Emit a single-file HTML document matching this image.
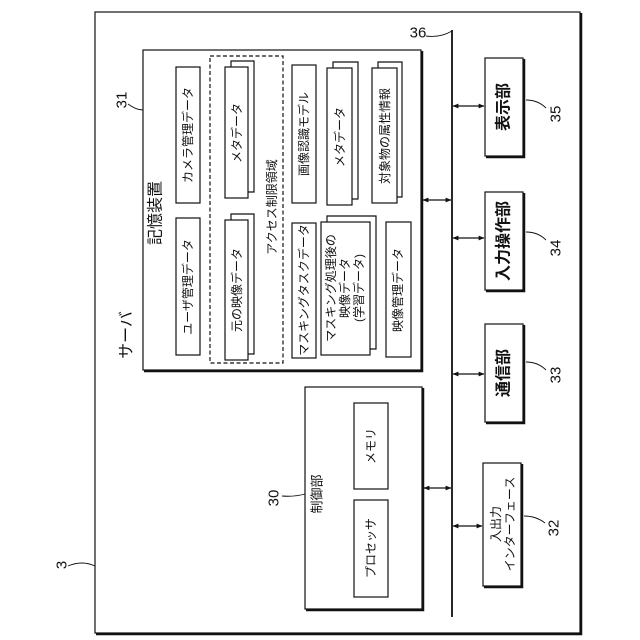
<!DOCTYPE html>
<html><head><meta charset="utf-8"><style>
html,body{margin:0;padding:0;background:#fff}
svg{display:block}
text{font-family:"Liberation Sans","Noto Sans CJK JP",sans-serif;fill:#111}
</style></head><body>
<svg width="640" height="640" viewBox="0 0 640 640" xmlns="http://www.w3.org/2000/svg">
<defs>
<marker id="a" viewBox="0 0 10 10" refX="9" refY="5" markerWidth="5" markerHeight="5" orient="auto-start-reverse"><path d="M0,1 L10,5 L0,9 z" fill="#111"/></marker>
</defs>
<g fill="none" stroke="#111" stroke-width="1.2">
<rect x="95" y="12" width="485" height="621"/>
<path d="M581,13 V634 H96" stroke-width="2.5"/>
<rect x="143" y="50" width="278" height="320"/>
<path d="M422,51 V371 H144" stroke-width="2.5"/>
<rect x="176" y="67" width="24" height="136"/>
<rect x="176" y="218" width="24" height="137"/>
<rect x="210" y="56" width="73" height="307" stroke-dasharray="4,2.5"/>
<path d="M231,67 V61 H254 V192 H248"/><rect x="225" y="67" width="23" height="131" fill="#fff"/>
<path d="M231,220 V214 H254 V354 H248"/><rect x="225" y="220" width="23" height="140" fill="#fff"/>
<rect x="292" y="65" width="24" height="138"/>
<path d="M333,68 V62 H358 V199 H352"/><rect x="327" y="68" width="25" height="137" fill="#fff"/>
<path d="M378,68 V62 H402 V197 H397"/><rect x="372" y="68" width="25" height="135" fill="#fff"/>
<rect x="292" y="223" width="24" height="135"/>
<path d="M327,222 V216 H376 V349 H370"/><rect x="321" y="222" width="49" height="133" fill="#fff"/>
<rect x="386" y="222" width="25" height="135"/>
<rect x="305" y="387" width="117" height="222"/>
<path d="M423,388 V610 H306" stroke-width="2.5"/>
<rect x="354" y="403" width="34" height="86"/>
<rect x="354" y="500" width="34" height="97"/>
<line x1="452" y1="30" x2="452" y2="617" stroke-width="1.8"/>
<rect x="485" y="58" width="38" height="98"/><path d="M524,59 V157 H486" stroke-width="2.5"/>
<rect x="485" y="192" width="38" height="98"/><path d="M524,193 V291 H486" stroke-width="2.5"/>
<rect x="485" y="324" width="38" height="98"/><path d="M524,325 V423 H486" stroke-width="2.5"/>
<rect x="483" y="463" width="38" height="123"/><path d="M522,464 V587 H484" stroke-width="2.5"/>
<line x1="423" y1="200" x2="451" y2="200" marker-start="url(#a)" marker-end="url(#a)"/>
<line x1="424" y1="488" x2="451" y2="488" marker-start="url(#a)" marker-end="url(#a)"/>
<line x1="453" y1="106" x2="484" y2="106" marker-start="url(#a)" marker-end="url(#a)"/>
<line x1="453" y1="238" x2="484" y2="238" marker-start="url(#a)" marker-end="url(#a)"/>
<line x1="453" y1="374" x2="484" y2="374" marker-start="url(#a)" marker-end="url(#a)"/>
<line x1="453" y1="526" x2="482" y2="526" marker-start="url(#a)" marker-end="url(#a)"/>
<path d="M526,100 Q538,100 546,108" stroke-width="0.9"/>
<path d="M526,232 Q538,232 546,240" stroke-width="0.9"/>
<path d="M526,362 Q538,362 546,370" stroke-width="0.9"/>
<path d="M524,516 Q536,516 545,523" stroke-width="0.9"/>
<path d="M426,36 Q440,38 452,31" stroke-width="0.9"/>
<path d="M128,104 Q136,110 143,110" stroke-width="0.9"/>
<path d="M282,496 Q294,497 305,494" stroke-width="0.9"/>
<path d="M68,566 Q82,560 95,566" stroke-width="0.9"/>
</g>
<g font-size="12" text-anchor="middle" dominant-baseline="central">
<text transform="translate(188,135) rotate(-90)">カメラ管理データ</text>
<text transform="translate(188,287) rotate(-90)">ユーザ管理データ</text>
<text transform="translate(237,133) rotate(-90)">メタデータ</text>
<text transform="translate(237,290) rotate(-90)">元の映像データ</text>
<text transform="translate(272,207) rotate(-90)">アクセス制限領域</text>
<text transform="translate(304,134) rotate(-90)">画像認識モデル</text>
<text transform="translate(340,137) rotate(-90)">メタデータ</text>
<text transform="translate(385,136) rotate(-90)">対象物の属性情報</text>
<text transform="translate(304,290) rotate(-90)">マスキングタスクデータ</text>
<text transform="translate(331,288) rotate(-90)">マスキング処理後の</text>
<text transform="translate(345,288) rotate(-90)">映像データ</text>
<text transform="translate(359,288) rotate(-90)">(学習データ)</text>
<text transform="translate(398,290) rotate(-90)">映像管理データ</text>
<text transform="translate(371,446) rotate(-90)">メモリ</text>
<text transform="translate(371,548) rotate(-90)">プロセッサ</text>
<text transform="translate(317,494) rotate(-90)" font-size="13">制御部</text>
<text transform="translate(496,524) rotate(-90)" font-size="12">入出力</text>
<text transform="translate(510,524) rotate(-90)" font-size="12">インターフェース</text>
<text transform="translate(504,107) rotate(-90)" font-size="16" font-weight="bold">表示部</text>
<text transform="translate(504,241) rotate(-90)" font-size="16" font-weight="bold">入力操作部</text>
<text transform="translate(504,373) rotate(-90)" font-size="16" font-weight="bold">通信部</text>
<text transform="translate(156,213) rotate(-90)" font-size="16">記憶装置</text>
<text transform="translate(127,335) rotate(-90)" font-size="16">サーバ</text>
<text transform="translate(556,114) rotate(-90)" font-size="15">35</text>
<text transform="translate(556,248) rotate(-90)" font-size="15">34</text>
<text transform="translate(556,375) rotate(-90)" font-size="15">33</text>
<text transform="translate(554,528) rotate(-90)" font-size="15">32</text>
<text transform="translate(274,498) rotate(-90)" font-size="15">30</text>
<text transform="translate(122,100) rotate(-90)" font-size="15">31</text>
<text transform="translate(418,33)" font-size="15">36</text>
<text transform="translate(62,565) rotate(-90)" font-size="15">3</text>
</g>
</svg>
</body></html>
